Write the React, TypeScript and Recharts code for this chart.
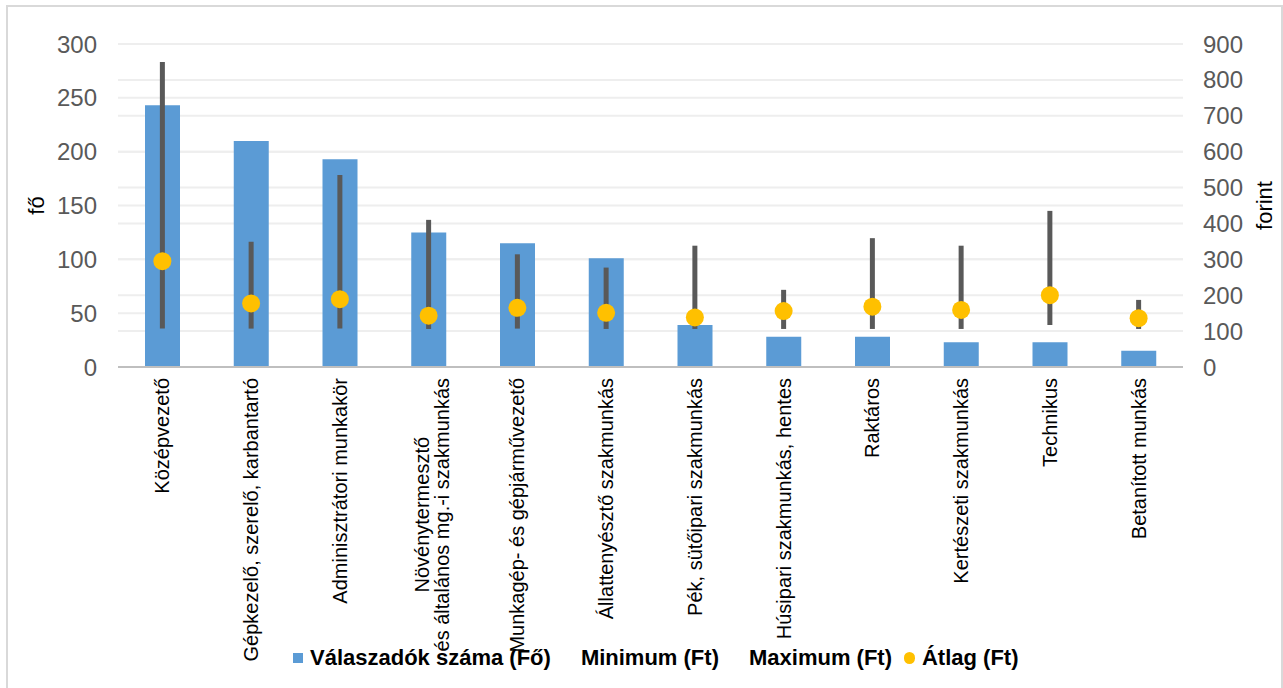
import {
  Bar,
  CartesianGrid,
  ComposedChart,
  ErrorBar,
  Label,
  Legend,
  Scatter,
  XAxis,
  YAxis,
} from "recharts"

const categories = [
  "Középvezető",
  "Gépkezelő, szerelő, karbantartó",
  "Adminisztrátori munkakör",
  "Növénytermesztő\nés általános mg.-i szakmunkás",
  "Munkagép- és gépjárművezető",
  "Állattenyésztő szakmunkás",
  "Pék, sütőipari szakmunkás",
  "Húsipari szakmunkás, hentes",
  "Raktáros",
  "Kertészeti szakmunkás",
  "Technikus",
  "Betanított munkás",
]

// fő
const respondents = [243, 210, 193, 125, 115, 101, 39, 28, 28, 23, 23, 15]
// forint
const minimum = [107, 107, 107, 106, 107, 106, 106, 106, 106, 106, 117, 106]
const maximum = [850, 349, 535, 410, 314, 277, 338, 215, 359, 338, 435, 187]
const average = [295, 177, 189, 143, 165, 151, 138, 156, 168, 159, 200, 136]

const leftTicks = [0, 50, 100, 150, 200, 250, 300]
const rightTicks = [0, 100, 200, 300, 400, 500, 600, 700, 800, 900]

const seriesNames = ["Válaszadók száma (Fő)", "Minimum (Ft)", "Maximum (Ft)", "Átlag (Ft)"]
const legendIcons = ["square", "none", "none", "circle"]

const data = categories.map((name, i) => ({
  name,
  count: respondents[i],
  min: minimum[i],
  max: maximum[i],
  avg: average[i],
}))

const FONT = "'Liberation Sans', Arial, sans-serif"
const BLUE = "#5B9BD5"
const GOLD = "#FFC000"
const DARK = "#595959"

let ctx: CanvasRenderingContext2D | null = null
function measure(text: string) {
  if (!ctx) ctx = document.createElement("canvas").getContext("2d")
  if (!ctx) return text.length * 10
  ctx.font = "20px 'Liberation Sans'"
  return ctx.measureText(text).width
}

const XTick = (props: any) => {
  const { x, y, payload } = props
  const lines: string[] = String(payload.value).split("\n")
  const maxW = Math.max(...lines.map(measure))
  const shift = lines.length > 1 ? 3 : 0
  return (
    <g transform={`translate(${x},${y})`}>
      {lines.map((l, i) => (
        <text
          key={i}
          transform="rotate(-90)"
          x={-maxW / 2}
          y={(i - (lines.length - 1) / 2) * 20 + shift}
          dy="0.35em"
          textAnchor="middle"
          fontSize={20}
          fontFamily={FONT}
          fill="#000"
        >
          {l}
        </text>
      ))}
    </g>
  )
}

const AvgDot = (props: any) => <circle cx={props.cx} cy={props.cy} r={9} fill={GOLD} />

const rangeKey = (d: any) => [d.avg - d.min, d.max - d.avg]

const renderLegend = () => (
  <div
    style={{
      display: "flex",
      alignItems: "center",
      fontFamily: FONT,
      fontWeight: "bold",
      fontSize: 22,
      lineHeight: "26px",
      color: "#000",
      whiteSpace: "nowrap",
    }}
  >
    {seriesNames.map((name, i) => (
      <div key={name} style={{ display: "flex", alignItems: "center", marginRight: 12 }}>
        <span style={{ width: 11, marginRight: 7, display: "flex", justifyContent: "center" }}>
          {legendIcons[i] === "square" && (
            <span style={{ width: 10, height: 10, background: BLUE, display: "block" }} />
          )}
          {legendIcons[i] === "circle" && (
            <span
              style={{ width: 12, height: 12, borderRadius: 6, background: GOLD, display: "block" }}
            />
          )}
        </span>
        <span>{name}</span>
      </div>
    ))}
  </div>
)

export default function App() {
  return (
    <div
      style={{
        position: "fixed",
        left: 6,
        top: 5,
        width: 1277,
        height: 690,
        border: "2px solid #D9D9D9",
        boxSizing: "border-box",
        background: "#fff",
        fontFamily: FONT,
      }}
    >
      <ComposedChart
        width={1273}
        height={680}
        data={data}
        margin={{ top: 37, right: 0, bottom: 0, left: 0 }}
      >
        <CartesianGrid yAxisId="left" vertical={false} stroke="#EEEEEE" strokeWidth={2} />
        <CartesianGrid yAxisId="right" vertical={false} stroke="#EEEEEE" strokeWidth={2} />
        <XAxis
          dataKey="name"
          interval={0}
          height={320}
          tickLine={false}
          tickSize={0}
          tickMargin={11}
          axisLine={{ stroke: "#BFBFBF", strokeWidth: 2 }}
          tick={<XTick />}
        />
        <YAxis
          yAxisId="left"
          width={110}
          domain={[0, 300]}
          ticks={leftTicks}
          axisLine={false}
          tickLine={false}
          tickMargin={15}
          tick={{ fill: DARK, fontSize: 24, fontFamily: FONT }}
        >
          <Label
            content={(p: any) => {
              const vb = p.viewBox
              const cx = vb.x + 28
              const cy = vb.y + vb.height / 2
              return (
                <text
                  x={cx}
                  y={cy}
                  dy="0.35em"
                  transform={`rotate(-90, ${cx}, ${cy})`}
                  textAnchor="middle"
                  fontSize={22}
                  fontFamily={FONT}
                  fill="#000"
                >
                  fő
                </text>
              )
            }}
          />
        </YAxis>
        <YAxis
          yAxisId="right"
          orientation="right"
          width={98}
          domain={[0, 900]}
          ticks={rightTicks}
          axisLine={false}
          tickLine={false}
          tickMargin={14}
          tick={{ fill: DARK, fontSize: 24, fontFamily: FONT }}
        >
          <Label
            content={(p: any) => {
              const vb = p.viewBox
              const cx = vb.x + 81.5
              const cy = vb.y + vb.height / 2
              return (
                <text
                  x={cx}
                  y={cy}
                  dy="0.35em"
                  transform={`rotate(-90, ${cx}, ${cy})`}
                  textAnchor="middle"
                  fontSize={22}
                  fontFamily={FONT}
                  fill="#000"
                >
                  forint
                </text>
              )
            }}
          />
        </YAxis>
        <Legend
          layout="horizontal"
          align="center"
          verticalAlign="middle"
          wrapperStyle={{ left: 284, top: 638, width: "auto" }}
          content={renderLegend}
        />
        <Bar
          yAxisId="left"
          dataKey="count"
          name={seriesNames[0]}
          fill={BLUE}
          barSize={35}
          isAnimationActive={false}
        />
        <Scatter
          yAxisId="right"
          dataKey="avg"
          name={seriesNames[3]}
          fill={GOLD}
          shape={AvgDot}
          isAnimationActive={false}
        >
          <ErrorBar
            dataKey={rangeKey}
            direction="y"
            width={0}
            stroke={DARK}
            strokeWidth={5}
            isAnimationActive={false}
          />
        </Scatter>
      </ComposedChart>
    </div>
  )
}
